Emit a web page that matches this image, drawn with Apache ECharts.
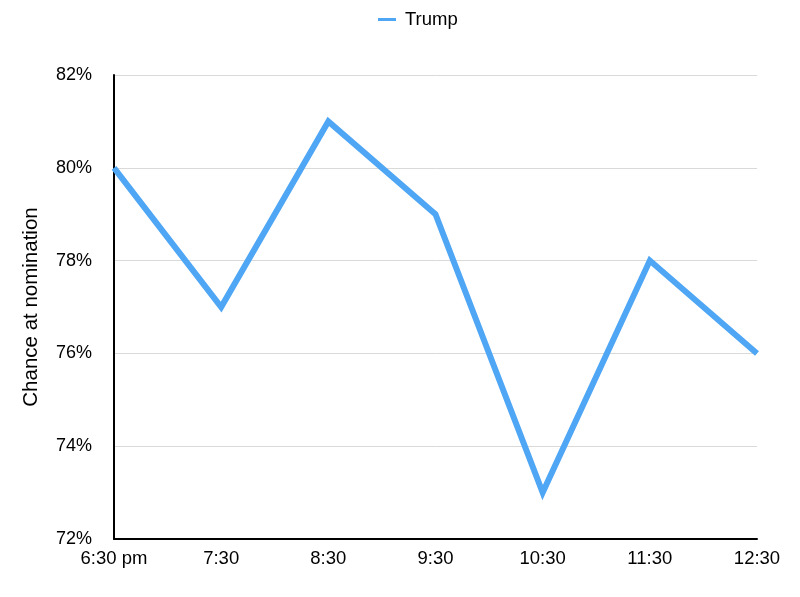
<!DOCTYPE html>
<html><head><meta charset="utf-8">
<script src="https://cdn.jsdelivr.net/npm/echarts@6/dist/echarts.min.js"></script>
<style>html,body{margin:0;padding:0;background:#fff}#c{width:800px;height:597px}</style>
</head><body><div id="c"></div>
<script>
const categories = ['6:30 pm','7:30','8:30','9:30','10:30','11:30','12:30'];
const trumpValues = [80, 77, 81, 79, 73, 78, 76];
const seriesName = 'Trump';
const yAxisTitle = 'Chance at nomination';

const chart = echarts.init(document.getElementById('c'));
const font = 'Liberation Sans, Arial, sans-serif';
chart.setOption({
  animation: false,
  textStyle: {fontFamily: font},
  legend: {
    top: 5, left: 373, itemWidth: 18, itemHeight: 3, icon: 'rect', itemGap: 10,
    textStyle: {fontSize: 18.5, color: '#000', fontFamily: font, padding: [0, 0, 0, 4]},
    data: [seriesName]
  },
  grid: {left: 114, right: 43, top: 75, bottom: 58, containLabel: false},
  xAxis: {
    type: 'category', data: categories, boundaryGap: false,
    axisLine: {lineStyle: {color: '#000', width: 2}},
    axisTick: {show: false},
    axisLabel: {color: '#000', fontSize: 18.5, margin: 10, fontFamily: font}
  },
  yAxis: {
    type: 'value', min: 72, max: 82, interval: 2,
    name: yAxisTitle, nameLocation: 'middle', nameGap: 72,
    nameTextStyle: {fontSize: 20.5, color: '#000', fontFamily: font},
    axisLine: {show: true, lineStyle: {color: '#000', width: 2}},
    axisTick: {show: false},
    axisLabel: {color: '#000', fontSize: 18, margin: 22, formatter: '{value}%', fontFamily: font},
    splitLine: {lineStyle: {color: '#d9d9d9', width: 1}}
  },
  series: [{
    name: seriesName, type: 'line', data: trumpValues,
    showSymbol: false, symbol: 'none',
    lineStyle: {color: '#4ea6f5', width: 6, join: 'miter'},
    itemStyle: {color: '#4ea6f5'}
  }]
});
</script></body></html>
